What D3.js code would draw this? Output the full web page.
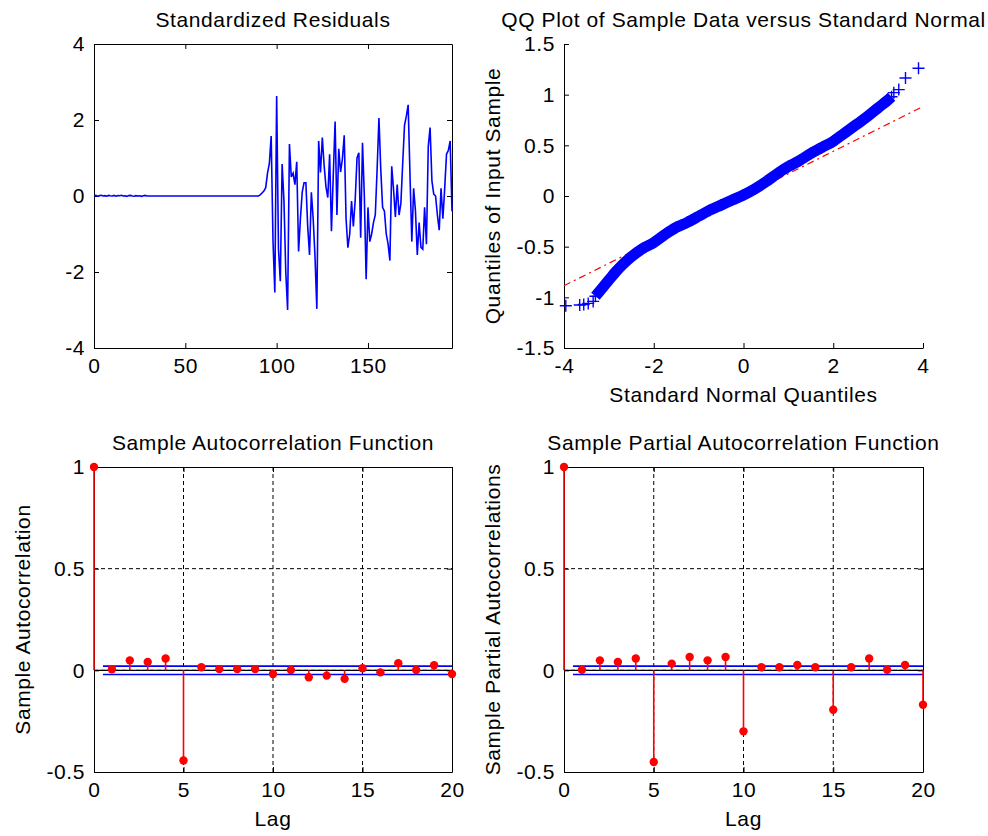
<!DOCTYPE html>
<html>
<head>
<meta charset="utf-8">
<script src="https://cdn.jsdelivr.net/npm/d3@7"></script>
<style>
body { margin: 0; background: #fff; }
svg text { fill: #000; letter-spacing: 0.6px; }
</style>
</head>
<body>
<div id="chart"></div>
<script>
// ---- data ----
var residualValues = [
    0.005, 0.015, -0.005, 0.01, 0.02, 0.0, 0.01, -0.005, 0.015, 0.005,
    0.0, 0.015, -0.005, 0.01, 0.005, 0.02, 0.0, 0.005, -0.01, 0.01,
    0.015, 0.0, -0.005, 0.01, 0.0, 0.005, -0.01, 0.005, 0.015, 0.0,
    0, 0, 0, 0, 0, 0, 0, 0, 0, 0,
    0, 0, 0, 0, 0, 0, 0, 0, 0, 0,
    0, 0, 0, 0, 0, 0, 0, 0, 0, 0,
    0, 0, 0, 0, 0, 0, 0, 0, 0, 0,
    0, 0, 0, 0, 0, 0, 0, 0, 0, 0,
    0, 0, 0, 0, 0, 0, 0, 0, 0, 0,
    0,
    0.03, 0.08, 0.13, 0.22, 0.6, 0.85, 1.58, -1.18, -2.54, 2.63,
    -1.4, -2.24, 0.84, -0.13, -2.0, -3.0, 1.37, 0.5, 0.6, 0.3,
    0.9, -1.46, -0.6, 0.1, 0.35, 0.35, -0.8, -1.55, 0.1, -0.6,
    -1.6, -2.97, 1.45, 0.62, 1.54, 0.8, 0.24, -0.04, 1.1, -0.93,
    0.55, 1.96, -0.5, 1.24, 0.63, 0.98, 1.6, -0.6, -1.36, -1.0,
    -0.13, -0.8, -0.1, 1.0, 1.14, -1.1, 1.4, 0.0, -2.19, -0.3,
    -1.2, -1.0, -0.7, -0.5, 0.7, 2.05, 0.7, -0.3, -0.4, -1.0,
    -1.26, -1.7, 0.78, 0.17, -0.55, 0.3, -0.5, -0.2, 0.85, 1.86,
    2.1, 2.4, 0.55, -1.2, 0.2, -0.4, -1.55, -0.7, -1.35, -1.4,
    -0.3, -1.27, 1.3, 1.8, 0.4, 0.05, 0.0, -0.5, -0.9, 0.2,
    -0.6, 0.2, 1.1, 1.2, 1.45, -0.4
];
var residualXTicks = [0, 50, 100, 150];
var residualYTicks = [-4, -2, 0, 2, 4];

// dense body of the QQ plot
var qqBandX = [-3.3, -3.15, -3.0, -2.85, -2.7, -2.5, -2.25, -2.0, -1.75, -1.5, -1.25, -1.0, -0.75, -0.5, -0.25,
    0, 0.25, 0.5, 0.75, 1.0, 1.25, 1.5, 1.75, 2.0, 2.25, 2.5, 2.75, 3.0, 3.2, 3.3];
var qqBandY = [-0.99, -0.91, -0.83, -0.75, -0.68, -0.60, -0.52, -0.46, -0.38, -0.31, -0.26, -0.20, -0.14, -0.09, -0.04,
    0.01, 0.07, 0.14, 0.22, 0.29, 0.35, 0.42, 0.48, 0.54, 0.62, 0.70, 0.78, 0.87, 0.94, 0.98];
// separate markers in the tails
var qqTailX = [-3.96, -3.65, -3.56, -3.46, -3.35, 3.35, 3.46, 3.61, 3.9];
var qqTailY = [-1.083, -1.075, -1.07, -1.06, -1.04, 1.02, 1.05, 1.165, 1.26];
var qqRefX = [-4, 4];
var qqRefY = [-0.885, 0.883];
var qqXTicks = [-4, -2, 0, 2, 4];
var qqYTicks = [-1.5, -1, -0.5, 0, 0.5, 1, 1.5];

var lags = [0, 1, 2, 3, 4, 5, 6, 7, 8, 9, 10, 11, 12, 13, 14, 15, 16, 17, 18, 19, 20];
var acfValues = [1, 0.005, 0.049, 0.041, 0.058, -0.443, 0.015, 0.006, 0.006, 0.006, -0.018,
    0.002, -0.034, -0.026, -0.042, 0.01, -0.01, 0.035, 0.002, 0.025, -0.018];
var pacfValues = [1, 0.003, 0.049, 0.041, 0.058, -0.451, 0.033, 0.066, 0.049, 0.066, -0.30,
    0.015, 0.015, 0.026, 0.015, -0.194, 0.015, 0.058, 0.003, 0.026, -0.169];
var confBound = 0.0205;
var lagTicks = [0, 5, 10, 15, 20];
var corrTicks = [-0.5, 0, 0.5, 1];

// ---- drawing ----
var fontFamily = "'Liberation Sans', Arial, sans-serif";
var fontSize = 21;
var blue = "#0000ff";
var red = "#ff0000";

var svg = d3.select("#chart").append("svg")
    .attr("width", 988)
    .attr("height", 836)
    .style("font-family", fontFamily);

function plainFormat(d) { return String(d); }

function styleAxis(g) {
    g.attr("font-size", fontSize).attr("font-family", fontFamily);
    g.selectAll("path.domain").attr("stroke", "#000");
    g.selectAll("line").attr("stroke", "#000");
}

function makePanel(box, xDomain, yDomain, xTicks, yTicks, boxed) {
    var panel = {};
    panel.box = box;
    panel.x = d3.scaleLinear().domain(xDomain).range([box.left, box.right]);
    panel.y = d3.scaleLinear().domain(yDomain).range([box.bottom, box.top]);
    panel.g = svg.append("g");
    panel.axisGroup = panel.g.append("g");
    panel.gridGroup = panel.g.append("g");
    panel.dataGroup = panel.g.append("g");

    panel.axisGroup.append("g")
        .attr("transform", "translate(0," + box.bottom + ")")
        .call(d3.axisBottom(panel.x).tickValues(xTicks).tickFormat(plainFormat)
            .tickSizeInner(-5).tickSizeOuter(0).tickPadding(10))
        .call(styleAxis);
    panel.axisGroup.append("g")
        .attr("transform", "translate(" + box.left + ",0)")
        .call(d3.axisLeft(panel.y).tickValues(yTicks).tickFormat(plainFormat)
            .tickSizeInner(-5).tickSizeOuter(0).tickPadding(9))
        .call(styleAxis);

    if (boxed) {
        panel.axisGroup.append("g")
            .attr("transform", "translate(0," + box.top + ")")
            .call(d3.axisTop(panel.x).tickValues(xTicks).tickFormat("")
                .tickSizeInner(-5).tickSizeOuter(0))
            .call(styleAxis);
        panel.axisGroup.append("g")
            .attr("transform", "translate(" + box.right + ",0)")
            .call(d3.axisRight(panel.y).tickValues(yTicks).tickFormat("")
                .tickSizeInner(-5).tickSizeOuter(0))
            .call(styleAxis);
    }
    return panel;
}

function addTitle(panel, text) {
    svg.append("text")
        .attr("x", (panel.box.left + panel.box.right) / 2)
        .attr("y", panel.box.top - 17)
        .attr("text-anchor", "middle")
        .attr("font-size", fontSize)
        .text(text);
}

function addXLabel(panel, text) {
    svg.append("text")
        .attr("x", (panel.box.left + panel.box.right) / 2)
        .attr("y", panel.box.bottom + 54)
        .attr("text-anchor", "middle")
        .attr("font-size", fontSize)
        .text(text);
}

function addYLabel(panel, text) {
    var cx = panel.box.left - 64;
    var cy = (panel.box.top + panel.box.bottom) / 2;
    svg.append("text")
        .attr("transform", "translate(" + cx + "," + cy + ") rotate(-90)")
        .attr("text-anchor", "middle")
        .attr("font-size", fontSize)
        .text(text);
}

// Standardized residuals
var resPanel = makePanel({ left: 94, right: 452, top: 44, bottom: 348 },
    [0, residualValues.length - 1], [-4, 4], residualXTicks, residualYTicks, true);
addTitle(resPanel, "Standardized Residuals");

resPanel.dataGroup.append("path")
    .datum(residualValues)
    .attr("fill", "none")
    .attr("stroke", blue)
    .attr("stroke-width", 1.6)
    .attr("d", d3.line()
        .x(function(d, i) { return resPanel.x(i); })
        .y(function(d) { return resPanel.y(d); }));

// QQ plot
var qqPanel = makePanel({ left: 564, right: 923, top: 44, bottom: 348 },
    [-4, 4], [-1.5, 1.5], qqXTicks, qqYTicks, false);
addTitle(qqPanel, "QQ Plot of Sample Data versus Standard Normal");
addXLabel(qqPanel, "Standard Normal Quantiles");
addYLabel(qqPanel, "Quantiles of Input Sample");

qqPanel.dataGroup.append("path")
    .datum(d3.zip(qqRefX, qqRefY))
    .attr("fill", "none")
    .attr("stroke", red)
    .attr("stroke-width", 1.2)
    .attr("stroke-dasharray", "7,4,2,4")
    .attr("d", d3.line()
        .x(function(d) { return qqPanel.x(d[0]); })
        .y(function(d) { return qqPanel.y(d[1]); }));

var qqBand = d3.zip(qqBandX, qqBandY);
qqPanel.dataGroup.append("path")
    .datum(qqBand)
    .attr("fill", "none")
    .attr("stroke", blue)
    .attr("stroke-width", 11)
    .attr("stroke-linejoin", "round")
    .attr("d", d3.line()
        .curve(d3.curveMonotoneX)
        .x(function(d) { return qqPanel.x(d[0]); })
        .y(function(d) { return qqPanel.y(d[1]); }));

var plusPath = "M-6,0H6M0,-6V6";
qqPanel.dataGroup.selectAll(".qqMark")
    .data(qqBand.concat(d3.zip(qqTailX, qqTailY)))
    .enter()
    .append("path")
    .attr("class", "qqMark")
    .attr("d", plusPath)
    .attr("fill", "none")
    .attr("stroke", blue)
    .attr("stroke-width", 1.4)
    .attr("transform", function(d) {
        return "translate(" + qqPanel.x(d[0]) + "," + qqPanel.y(d[1]) + ")";
    });

// ACF / PACF stem plots
function drawStemPanel(box, values, title, yLabel) {
    var panel = makePanel(box, [0, 20], [-0.5, 1], lagTicks, corrTicks, true);
    addTitle(panel, title);
    addXLabel(panel, "Lag");
    addYLabel(panel, yLabel);

    // dashed grid
    var gridX = lagTicks.filter(function(d) { return d > 0 && d < 20; });
    var gridY = corrTicks.filter(function(d) { return d > -0.5 && d < 1; });
    panel.gridGroup.selectAll(".gx")
        .data(gridX)
        .enter()
        .append("line")
        .attr("x1", function(d) { return panel.x(d); })
        .attr("x2", function(d) { return panel.x(d); })
        .attr("y1", box.top)
        .attr("y2", box.bottom)
        .attr("stroke", "#000")
        .attr("stroke-dasharray", "4,3");
    panel.gridGroup.selectAll(".gy")
        .data(gridY)
        .enter()
        .append("line")
        .attr("x1", box.left)
        .attr("x2", box.right)
        .attr("y1", function(d) { return panel.y(d); })
        .attr("y2", function(d) { return panel.y(d); })
        .attr("stroke", "#000")
        .attr("stroke-dasharray", "4,3");

    // stem baseline
    panel.dataGroup.append("line")
        .attr("x1", panel.x(0))
        .attr("x2", panel.x(20))
        .attr("y1", panel.y(0))
        .attr("y2", panel.y(0))
        .attr("stroke", "#000")
        .attr("stroke-width", 1.2);

    // confidence bounds
    panel.dataGroup.selectAll(".bound")
        .data([confBound, -confBound])
        .enter()
        .append("line")
        .attr("x1", panel.x(0.5))
        .attr("x2", panel.x(20))
        .attr("y1", function(d) { return panel.y(d); })
        .attr("y2", function(d) { return panel.y(d); })
        .attr("stroke", blue)
        .attr("stroke-width", 1.6);

    panel.dataGroup.selectAll(".stem")
        .data(values)
        .enter()
        .append("line")
        .attr("x1", function(d, i) { return panel.x(lags[i]); })
        .attr("x2", function(d, i) { return panel.x(lags[i]); })
        .attr("y1", panel.y(0))
        .attr("y2", function(d) { return panel.y(d); })
        .attr("stroke", red)
        .attr("stroke-width", 1.6);

    panel.dataGroup.selectAll(".dot")
        .data(values)
        .enter()
        .append("circle")
        .attr("cx", function(d, i) { return panel.x(lags[i]); })
        .attr("cy", function(d) { return panel.y(d); })
        .attr("r", 4.2)
        .attr("fill", red);
    return panel;
}

drawStemPanel({ left: 94, right: 452, top: 467, bottom: 772 }, acfValues,
    "Sample Autocorrelation Function", "Sample Autocorrelation");
drawStemPanel({ left: 564, right: 923, top: 467, bottom: 772 }, pacfValues,
    "Sample Partial Autocorrelation Function", "Sample Partial Autocorrelations");
</script>
</body>
</html>
